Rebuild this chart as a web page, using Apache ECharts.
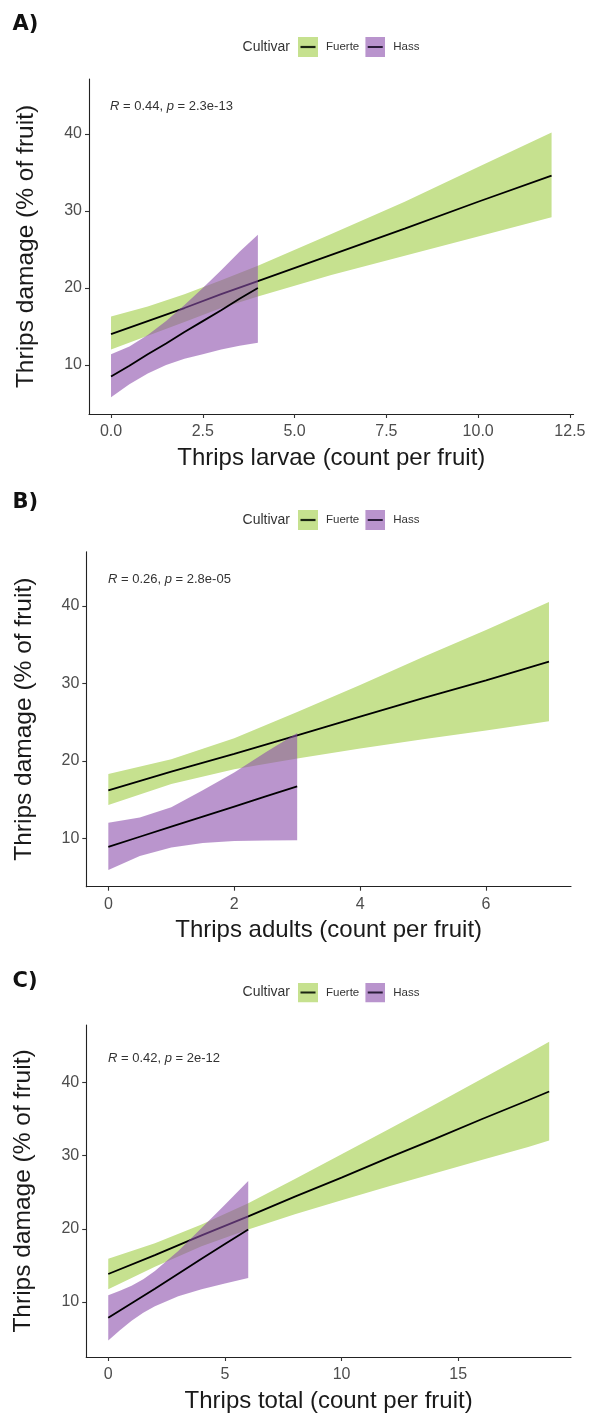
<!DOCTYPE html>
<html>
<head>
<meta charset="utf-8">
<title>Thrips damage vs thrips counts by cultivar</title>
<script src="https://cdn.jsdelivr.net/npm/echarts@6/dist/echarts.min.js"></script>
<style>
  html, body { margin: 0; padding: 0; background: #fff; }
  #chart { width: 591px; height: 1414px; }
</style>
</head>
<body>
<div id="chart"></div>
<script>
// ---- Fitted lines and 95% confidence ribbons (damage, % of fruit) ----

// A) Thrips larvae
const larvaeX_F   = [0, 1, 2, 3, 4, 6, 8, 10, 12];
const larvaeFit_F = [14.0, 15.7, 17.4, 19.2, 20.9, 24.3, 27.7, 31.2, 34.6];
const larvaeLo_F  = [12.0, 13.8, 15.6, 17.4, 18.9, 21.7, 24.2, 26.7, 29.2];
const larvaeHi_F  = [16.3, 17.6, 19.2, 21.0, 22.9, 27.0, 31.2, 35.7, 40.2];

const larvaeX_H   = [0, 0.5, 1, 1.5, 2, 2.5, 3, 3.5, 4];
const larvaeFit_H = [8.5, 9.9, 11.4, 12.8, 14.3, 15.7, 17.1, 18.6, 20.0];
const larvaeLo_H  = [5.8, 7.5, 8.9, 10.0, 10.8, 11.4, 12.0, 12.5, 12.9];
const larvaeHi_H  = [11.4, 12.4, 13.9, 15.7, 17.8, 20.0, 22.3, 24.7, 26.9];

// B) Thrips adults
const adultsX_F   = [0, 1, 2, 3, 4, 5, 6, 7];
const adultsFit_F = [16.2, 18.6, 20.9, 23.3, 25.7, 28.1, 30.4, 32.8];
const adultsLo_F  = [14.3, 17.0, 18.9, 20.3, 21.6, 22.8, 23.9, 25.1];
const adultsHi_F  = [18.3, 20.2, 22.9, 26.3, 29.8, 33.4, 36.9, 40.5];

const adultsX_H   = [0, 0.5, 1, 1.5, 2, 2.5, 3];
const adultsFit_H = [8.9, 10.2, 11.5, 12.8, 14.1, 15.4, 16.7];
const adultsLo_H  = [5.9, 7.7, 8.8, 9.4, 9.65, 9.7, 9.75];
const adultsHi_H  = [12.0, 12.7, 14.0, 16.2, 18.5, 21.1, 23.6];

// C) Thrips total
const totalX_F   = [0, 2, 4, 6, 8, 10, 12, 14, 16, 18, 18.9];
const totalFit_F = [13.8, 16.4, 19.1, 21.7, 24.4, 27.0, 29.7, 32.3, 35.0, 37.6, 38.8];
const totalLo_F  = [11.7, 14.8, 17.6, 19.9, 22.0, 23.9, 25.8, 27.6, 29.4, 31.2, 32.1];
const totalHi_F  = [15.9, 18.0, 20.6, 23.5, 26.8, 30.2, 33.6, 37.0, 40.5, 44.0, 45.6];

const totalX_H   = [0, 0.5, 1, 1.5, 2, 3, 4, 5, 6];
const totalFit_H = [7.8, 8.8, 9.8, 10.8, 11.8, 13.85, 15.9, 17.9, 19.9];
const totalLo_H  = [4.7, 6.1, 7.4, 8.5, 9.4, 10.75, 11.7, 12.5, 13.25];
const totalHi_H  = [10.9, 11.5, 12.2, 13.1, 14.2, 16.95, 20.1, 23.3, 26.55];

// Tick labels
const larvaeTicks = [0, 2.5, 5, 7.5, 10, 12.5];
const adultsTicks = [0, 2, 4, 6];
const totalTicks  = [0, 5, 10, 15];
const damageTicks = [10, 20, 30, 40];

// Text
const cultivars = ['Fuerte', 'Hass'];
const panelLetters = ['A)', 'B)', 'C)'];
const xTitles = ['Thrips larvae (count per fruit)', 'Thrips adults (count per fruit)', 'Thrips total (count per fruit)'];
const yTitle = 'Thrips damage (% of fruit)';
const corR = ['0.44', '0.26', '0.42'];
const corP = ['2.3e-13', '2.8e-05', '2e-12'];

// ---- Styling ----
const SANS = '"Liberation Sans", Arial, sans-serif';
const FUERTE_FILL = '#c6e18f';
const HASS_FILL = 'rgba(140,78,172,0.6)';
const HASS_KEY = '#b994cd';

function keyIcon(fill, line) {
  const svg = '<svg xmlns="http://www.w3.org/2000/svg" width="20" height="20">' +
    '<rect width="20" height="20" fill="' + fill + '"/>' +
    '<line x1="2.5" y1="10" x2="17.5" y2="10" stroke="' + line + '" stroke-width="2.2"/></svg>';
  return 'image://data:image/svg+xml;charset=utf-8,' + encodeURIComponent(svg);
}

// Panel frames (pixels) and axis ranges
const panels = [
  { grid: { left: 89, top: 79, width: 484.6, height: 335 }, xMin: -0.6, xMax: 12.6, yMin: 3.64, yMax: 47.14,
    ticks: larvaeTicks, fmt: v => v.toFixed(1), legendTop: 37, letterY: 24.5, noteY: 106, noteX: 110,
    F: [larvaeX_F, larvaeFit_F, larvaeLo_F, larvaeHi_F], H: [larvaeX_H, larvaeFit_H, larvaeLo_H, larvaeHi_H] },
  { grid: { left: 86.3, top: 551.7, width: 484.7, height: 335 }, xMin: -0.35, xMax: 7.35, yMin: 3.75, yMax: 47.0,
    ticks: adultsTicks, fmt: v => String(v), legendTop: 510, letterY: 503, noteY: 579, noteX: 108,
    F: [adultsX_F, adultsFit_F, adultsLo_F, adultsHi_F], H: [adultsX_H, adultsFit_H, adultsLo_H, adultsHi_H] },
  { grid: { left: 86.2, top: 1025, width: 484.8, height: 335 }, xMin: -0.945, xMax: 19.835, yMin: 2.44, yMax: 47.9,
    ticks: totalTicks, fmt: v => String(v), legendTop: 982.5, letterY: 981.5, noteY: 1058, noteX: 108,
    F: [totalX_F, totalFit_F, totalLo_F, totalHi_F], H: [totalX_H, totalFit_H, totalLo_H, totalHi_H] }
];

const grids = [], xAxes = [], yAxes = [], series = [], legends = [], graphics = [];

// Each cultivar: ribbon then its line; Hass is drawn on top of Fuerte
function addCultivar(pi, name, arrs, fill, zBase) {
  const [xs, fit, lo, hi] = arrs;
  series.push({
    type: 'custom', name: name, xAxisIndex: pi, yAxisIndex: pi, silent: true, z: zBase,
    itemStyle: { color: fill },
    data: xs.map((x, i) => [x, lo[i], hi[i]]),
    encode: { x: 0, y: [1, 2] },
    renderItem: (params, api) => {
      if (params.dataIndex !== 0) return null;
      const upper = xs.map((x, i) => api.coord([x, hi[i]]));
      const lower = xs.map((x, i) => api.coord([x, lo[i]])).reverse();
      return { type: 'polygon', shape: { points: upper.concat(lower) }, style: { fill: fill } };
    }
  });
  series.push({
    type: 'line', name: name, xAxisIndex: pi, yAxisIndex: pi, symbol: 'none', silent: true, z: zBase + 1,
    lineStyle: { color: '#000', width: 1.8 },
    itemStyle: { color: fill },
    data: xs.map((x, i) => [x, fit[i]])
  });
}

panels.forEach((p, pi) => {
  grids.push(Object.assign({ containLabel: false }, p.grid));
  const axisLine = { show: true, onZero: false, lineStyle: { color: '#222', width: 1.1 } };
  const axisTick = { show: true, length: 4, lineStyle: { color: '#333', width: 1.1 } };
  xAxes.push({
    type: 'value', gridIndex: pi, min: p.xMin, max: p.xMax, z: 10,
    axisLine: axisLine,
    axisTick: Object.assign({ customValues: p.ticks }, axisTick),
    axisLabel: { customValues: p.ticks, formatter: p.fmt, margin: 10, color: '#4d4d4d', fontSize: 16, fontFamily: SANS },
    splitLine: { show: false },
    name: xTitles[pi], nameLocation: 'middle', nameGap: 32,
    nameTextStyle: { fontSize: 24, color: '#1a1a1a', fontFamily: SANS }
  });
  yAxes.push({
    type: 'value', gridIndex: pi, min: p.yMin, max: p.yMax, z: 10,
    axisLine: axisLine,
    axisTick: Object.assign({ customValues: damageTicks }, axisTick),
    axisLabel: { customValues: damageTicks, margin: 7, color: '#4d4d4d', fontSize: 16, fontFamily: SANS },
    splitLine: { show: false },
    name: yTitle, nameLocation: 'middle', nameGap: 50,
    nameTextStyle: { fontSize: 24.5, color: '#1a1a1a', fontFamily: SANS }
  });

  addCultivar(pi, cultivars[0], p.F, FUERTE_FILL, 2);
  addCultivar(pi, cultivars[1], p.H, HASS_FILL, 4);

  legends.push({
    left: 298, top: p.legendTop, orient: 'horizontal', padding: 0,
    itemWidth: 20, itemHeight: 20, itemGap: 6, selectedMode: false,
    textStyle: { fontSize: 11.5, color: '#333', fontFamily: SANS, padding: [0, 0, 0, 3] },
    data: [
      { name: cultivars[0], icon: keyIcon(FUERTE_FILL, '#1b2512') },
      { name: cultivars[1], icon: keyIcon(HASS_KEY, '#2b1d3a') }
    ]
  });

  graphics.push({
    type: 'text', x: 290, y: p.legendTop + 10,
    style: { text: 'Cultivar', font: '14px ' + SANS, fill: '#333', align: 'right', verticalAlign: 'middle' }
  });
  graphics.push({
    type: 'text', x: 12.5, y: p.letterY,
    style: { text: panelLetters[pi], font: 'bold 21px "DejaVu Sans", sans-serif', fill: '#111', align: 'left', verticalAlign: 'middle' }
  });
  graphics.push({
    type: 'text', x: p.noteX, y: p.noteY,
    style: {
      text: '{i|R} = ' + corR[pi] + ', {i|p} = ' + corP[pi],
      font: '13px ' + SANS, fill: '#333', align: 'left', verticalAlign: 'middle',
      rich: { i: { fontStyle: 'italic', fontSize: 13, fontFamily: SANS, fill: '#333', color: '#333' } }
    }
  });
});

const chart = echarts.init(document.getElementById('chart'), null, { renderer: 'canvas' });
chart.setOption({
  backgroundColor: '#ffffff',
  animation: false,
  grid: grids,
  xAxis: xAxes,
  yAxis: yAxes,
  legend: legends,
  series: series,
  graphic: graphics
});
</script>
</body>
</html>
